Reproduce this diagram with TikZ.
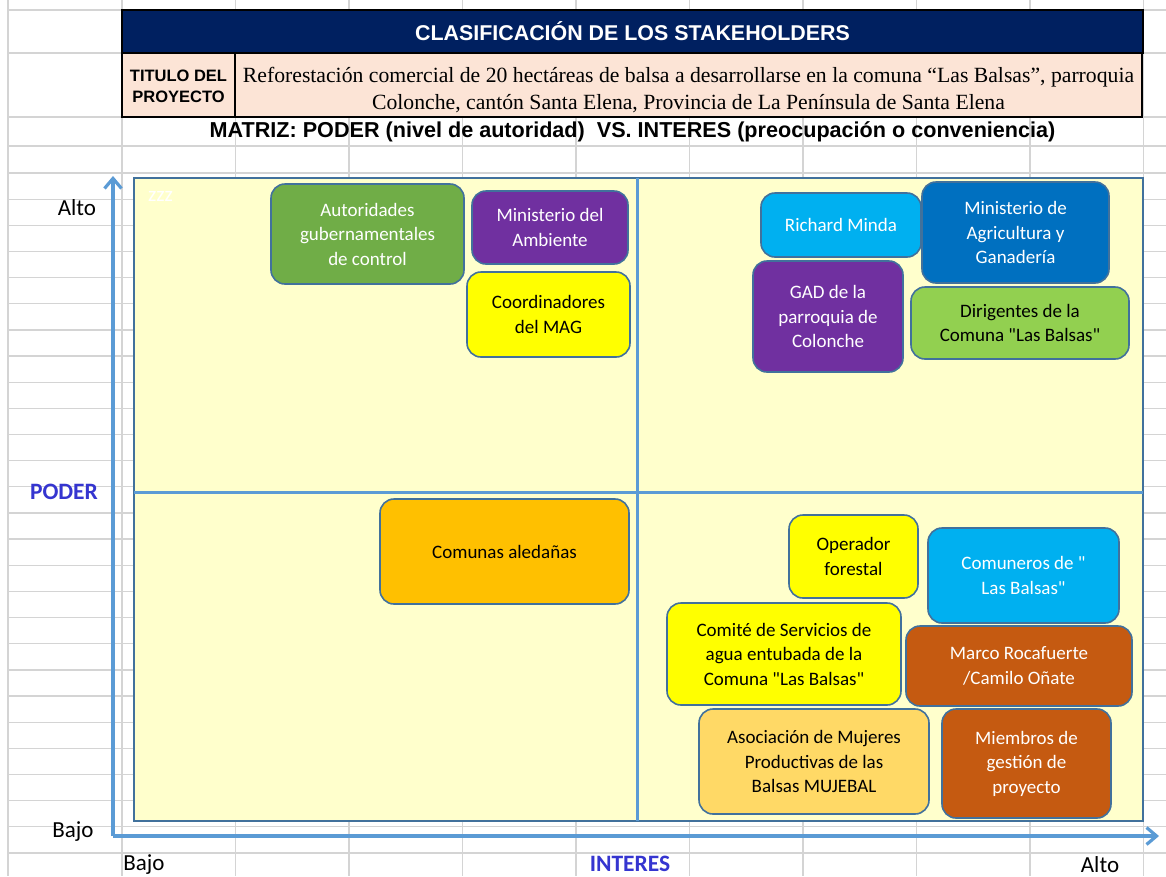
\documentclass[tikz,border=0pt]{standalone}
\usepackage{fontspec}
\newfontfamily\calibri{Carlito}
\newfontfamily\arialfont{Liberation Sans}
\newfontfamily\timesfont{Liberation Serif}
\usetikzlibrary{arrows.meta}

\definecolor{navy}{HTML}{002060}
\definecolor{rosado}{HTML}{FCE4D6}
\definecolor{rejilla}{HTML}{D4D4D4}
\definecolor{fondo}{HTML}{FFFFCC}
\definecolor{borde}{HTML}{41719C}
\definecolor{ejeazul}{HTML}{5B9BD5}
\definecolor{rotuloazul}{HTML}{3535D0}
\definecolor{verde}{HTML}{70AD47}
\definecolor{morado}{HTML}{7030A0}
\definecolor{amarillo}{HTML}{FFFF00}
\definecolor{celeste}{HTML}{00B0F0}
\definecolor{azul}{HTML}{0070C0}
\definecolor{verdeclaro}{HTML}{92D050}
\definecolor{naranja}{HTML}{FFC000}
\definecolor{ladrillo}{HTML}{C55A11}
\definecolor{durazno}{HTML}{FFD966}

\begin{document}
\begin{tikzpicture}[x=1pt,y=-1pt,
	gridline/.style={draw=rejilla,line width=1.3pt},
	celda/.style={draw=black,line width=2.6pt,inner sep=0pt},
	actor/.style={draw=borde,line width=1.6pt,rounded corners=14pt,align=center,inner sep=0pt,font=\calibri\fontsize{19}{24.5}\selectfont},
	eje/.style={draw=ejeazul,line width=3.2pt,-{Straight Barb[length=10pt,width=17pt]}},
	rotulo/.style={anchor=base,font=\calibri\fontsize{23}{28}\selectfont},
	rotulob/.style={anchor=base,text=rotuloazul,font=\calibri\bfseries\fontsize{23.5}{28}\selectfont}]
	\useasboundingbox[fill=white] (0,0) rectangle (1166,876);

	% hoja de calculo
	\foreach \x in {8,122,235.5,349,462.5,576,689.5,803,916.5,1030,1143.5}
		\draw[gridline] (\x,0) -- (\x,876);
	\foreach \y in {10,53,117,146}
		\draw[gridline] (8,\y) -- (1166,\y);
	\foreach \k in {0,...,26}
		\draw[gridline] (8,{173+26.15*\k}) -- (1166,{173+26.15*\k});

	% encabezado
	\node[celda,fill=navy,minimum width=1021,minimum height=43,text=white,
		font=\arialfont\bfseries\fontsize{21.4}{24}\selectfont] (encabezado) at (632.5,31.5) {CLASIFICACIÓN DE LOS STAKEHOLDERS};
	\node[celda,fill=rosado,minimum width=113,minimum height=64] (tituloetq) at (178.5,85) {};
	\node[align=center,font=\arialfont\bfseries\fontsize{16.5}{21}\selectfont] (tituloetqtxt) at (178.5,86) {TITULO DEL\\PROYECTO};
	\node[celda,fill=rosado,minimum width=907,minimum height=64] (proyecto) at (688.5,85) {};
	\node[align=center,font=\timesfont\fontsize{21.7}{27}\selectfont] (proyectotxt) at (688.5,90) {Reforestación comercial de 20 hectáreas de balsa a desarrollarse en la comuna “Las Balsas”, parroquia\\Colonche, cantón Santa Elena, Provincia de La Península de Santa Elena};
	\node[font=\arialfont\bfseries\fontsize{21.6}{24}\selectfont] (matriz) at (632.5,132) {MATRIZ: PODER (nivel de autoridad)~~VS. INTERES (preocupación o conveniencia)};

	% matriz
	\draw[fill=fondo,draw=borde,line width=1.6pt] (134,178) rectangle (1143,821);
	\draw[ejeazul,line width=3pt] (637,178) -- (637,821);
	\draw[ejeazul,line width=3pt] (134,492) -- (1143,492);
	\node[text=white,font=\calibri\fontsize{21}{24}\selectfont] (zzz) at (160.5,196) {zzz};

	% cuadrante alto / bajo
	\node[actor,fill=verde,text=white,minimum width=193,minimum height=100] (autoridades) at (367.5,234) {Autoridades\\gubernamentales\\de control};
	\node[actor,fill=morado,text=white,minimum width=156,minimum height=73] (ambiente) at (550,227.5) {Ministerio del\\Ambiente};
	\node[actor,fill=amarillo,minimum width=163,minimum height=85] (coordinadores) at (548.5,314.5) {Coordinadores\\del MAG};
	\node[actor,fill=naranja,minimum width=249,minimum height=105] (aledanas) at (504.5,551.5) {Comunas aledañas};

	% cuadrante alto / alto
	\node[actor,fill=celeste,text=white,minimum width=160,minimum height=64] (minda) at (841,225) {Richard Minda};
	\node[actor,fill=azul,text=white,minimum width=187,minimum height=101] (agricultura) at (1015.5,232.5) {Ministerio de\\Agricultura y\\Ganadería};
	\node[actor,fill=morado,text=white,minimum width=150,minimum height=111] (gad) at (828,316.5) {GAD de la\\parroquia de\\Colonche};
	\node[actor,fill=verdeclaro,minimum width=218,minimum height=72] (dirigentes) at (1020,323) {Dirigentes de la\\Comuna "Las Balsas"};

	% cuadrante bajo / alto
	\node[actor,fill=amarillo,minimum width=129,minimum height=83] (operador) at (853.5,556.5) {Operador\\forestal};
	\node[actor,fill=celeste,text=white,minimum width=191,minimum height=95] (comuneros) at (1023.5,575.5) {Comuneros de "\\Las Balsas"};
	\node[actor,fill=amarillo,minimum width=234,minimum height=102] (comite) at (784,654) {Comité de Servicios de\\agua entubada de la\\Comuna "Las Balsas"};
	\node[actor,fill=ladrillo,text=white,minimum width=226,minimum height=80] (marco) at (1019,666) {Marco Rocafuerte\\/Camilo Oñate};
	\node[actor,fill=durazno,minimum width=230,minimum height=105] (mujebal) at (814,761.5) {Asociación de Mujeres\\Productivas de las\\Balsas MUJEBAL};
	\node[actor,fill=ladrillo,text=white,minimum width=169,minimum height=109] (miembros) at (1026.5,763.5) {Miembros de\\gestión de\\proyecto};

	% ejes
	\coordinate (origen) at (113,836);
	\coordinate (poder) at (113,176);
	\coordinate (interes) at (1159,836);
	\draw[eje] (origen) -- (poder);
	\draw[eje] (origen) -- (interes);

	\node[rotulo] (altoy) at (77,215) {Alto};
	\node[rotulob] (podertxt) at (64,499) {PODER};
	\node[rotulo] (bajoy) at (73,837) {Bajo};
	\node[rotulo] (bajox) at (144,870) {Bajo};
	\node[rotulob] (interestxt) at (630,871) {INTERES};
	\node[rotulo] (altox) at (1100,872) {Alto};
\end{tikzpicture}
\end{document}
